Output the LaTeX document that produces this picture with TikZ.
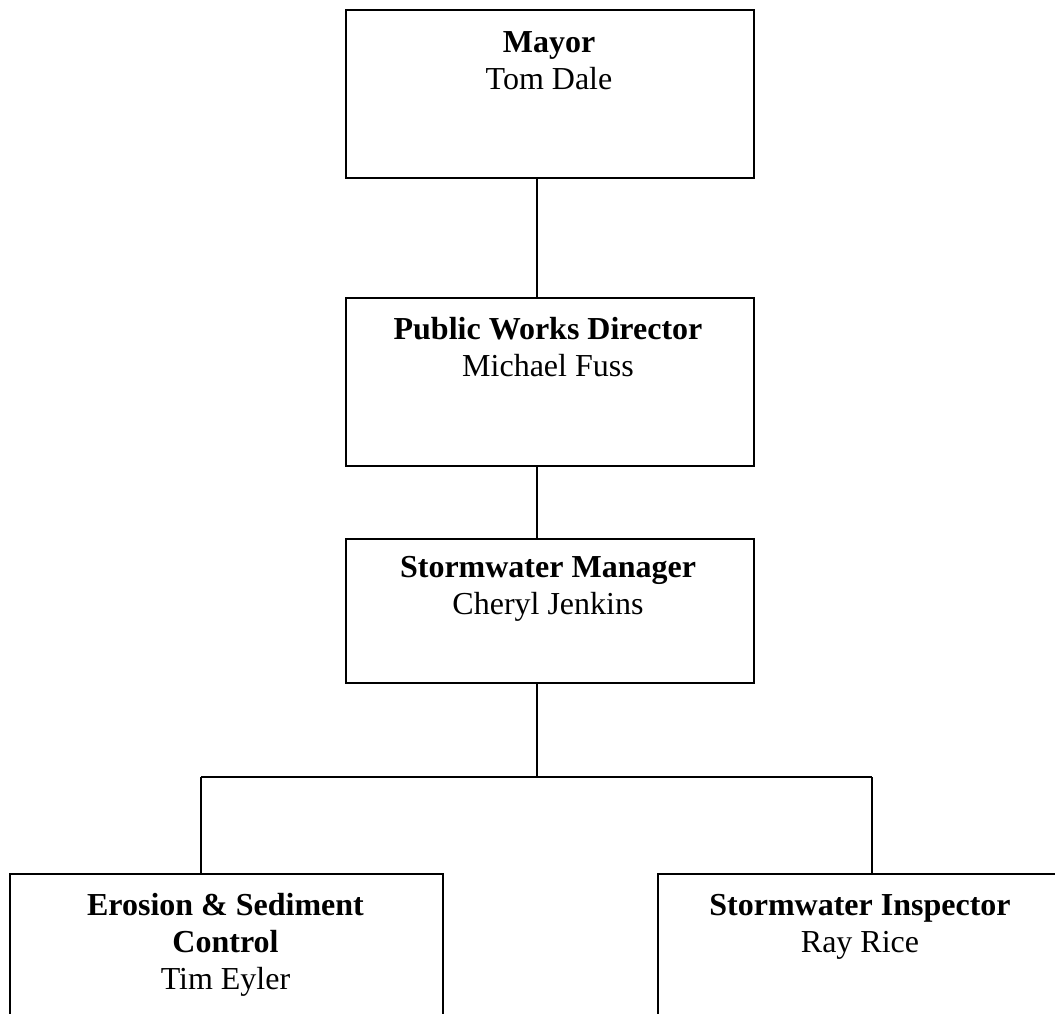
\documentclass[tikz,border=0pt]{standalone}
\usepackage{fontspec}
\setmainfont{Liberation Serif}
\begin{document}
\begin{tikzpicture}[x=1pt,y=-1pt,
  box/.style={draw=black,line width=1.6pt,rectangle,anchor=north west,inner sep=0pt},
  lbl/.style={anchor=north,align=center,inner sep=0pt,font=\fontsize{32}{37}\selectfont},
  conn/.style={draw=black,line width=1.6pt}]
\path[use as bounding box, clip] (0,0) rectangle (1055,1013);
\fill[white] (0,0) rectangle (1055,1013);

% boxes
\node[box,minimum width=408pt,minimum height=168pt] (mayor) at (345,9) {};
\node[box,minimum width=408pt,minimum height=168pt] (pwd) at (345,297) {};
\node[box,minimum width=408pt,minimum height=144pt] (sm) at (345,538) {};
\node[box,minimum width=433pt,minimum height=227pt] (esc) at (9,873) {};
\node[box,minimum width=406pt,minimum height=227pt] (insp) at (657,873) {};

% texts
\node[lbl] (mayorT) at (549,31) {\textbf{Mayor}\\Tom Dale};
\node[lbl] (pwdT) at (548,317) {\textbf{Public Works Director}\\Michael Fuss};
\node[lbl] (smT) at (548,556) {\textbf{Stormwater Manager}\\Cheryl Jenkins};
\node[lbl] (escT) at (225.5,893) {\textbf{Erosion \& Sediment}\\\textbf{Control}\\Tim Eyler};
\node[lbl] (inspT) at (860,894) {\textbf{Stormwater Inspector}\\Ray Rice};

% connectors
\coordinate (spine) at (537,0);
\coordinate (bus) at (537,777);
\coordinate (busL) at (201,777);
\coordinate (busR) at (872,777);
\draw[conn] (mayor.south -| spine) -- (pwd.north -| spine);
\draw[conn] (pwd.south -| spine) -- (sm.north -| spine);
\draw[conn] (sm.south -| spine) -- (bus);
\draw[conn] (busL) -- (busR);
\draw[conn] (busL) -- (esc.north -| busL);
\draw[conn] (busR) -- (insp.north -| busR);
\end{tikzpicture}
\end{document}
